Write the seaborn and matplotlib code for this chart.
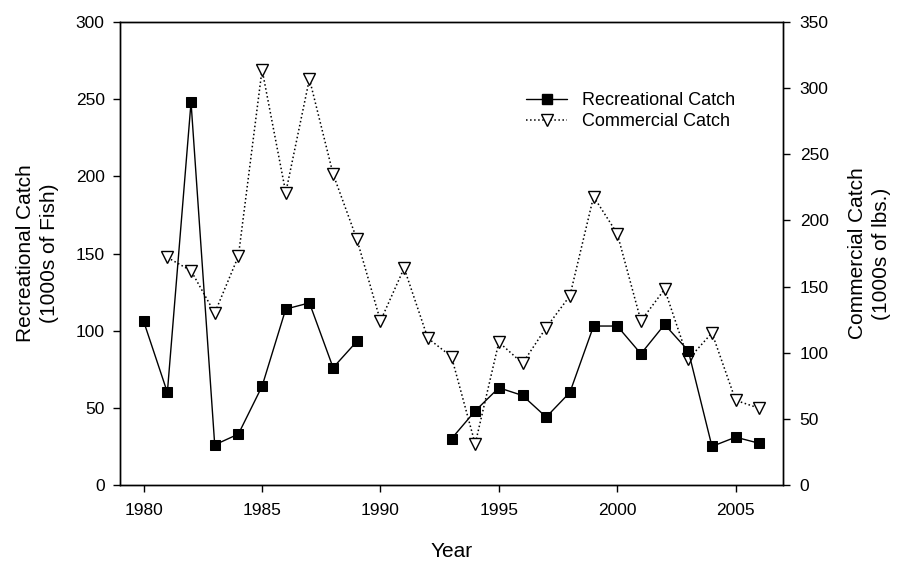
import numpy as np
import pandas as pd
import matplotlib
matplotlib.use("Agg")
import matplotlib.pyplot as plt
from matplotlib.lines import Line2D
import seaborn as sns

sns.set_style("ticks")
plt.rcParams["font.family"] = ["Liberation Sans", "DejaVu Sans"]
plt.rcParams["text.color"] = "black"
plt.rcParams["axes.labelcolor"] = "black"
plt.rcParams["xtick.color"] = "black"
plt.rcParams["ytick.color"] = "black"

# ---- data ----
rec_years = [1980, 1981, 1982, 1983, 1984, 1985, 1986, 1987, 1988, 1989,
             1993, 1994, 1995, 1996, 1997, 1998, 1999, 2000, 2001, 2002,
             2003, 2004, 2005, 2006]
rec_catch = [106, 60, 248, 26, 33, 64, 114, 118, 76, 93,
             30, 48, 63, 58, 44, 60, 103, 103, 85, 104,
             87, 25, 31, 27]
rec_segment = [0] * 10 + [1] * 14

com_years = list(range(1981, 2007))
com_catch = [172, 162, 130, 173, 314, 221, 307, 235, 186, 124,
             164, 111, 97, 31, 108, 92, 119, 143, 218, 190,
             124, 148, 95, 115, 64, 58]

left_ticks = [0, 50, 100, 150, 200, 250, 300]
right_ticks = [0, 50, 100, 150, 200, 250, 300, 350]
x_ticks = [1980, 1985, 1990, 1995, 2000, 2005]

rec_df = pd.DataFrame({"Year": rec_years, "Catch": rec_catch, "seg": rec_segment})
com_df = pd.DataFrame({"Year": com_years, "Catch": com_catch})

# ---- figure ----
fig = plt.figure(figsize=(8.98, 5.62), dpi=100)
ax = fig.add_axes([0.13363, 0.13701, 0.73831, 0.82384])
ax2 = ax.twinx()

sns.lineplot(data=com_df, x="Year", y="Catch", ax=ax2, color="black",
             linestyle=":", linewidth=1.1, marker="v", markersize=9,
             markerfacecolor="white", markeredgecolor="black",
             markeredgewidth=1.0, legend=False)

sns.lineplot(data=rec_df, x="Year", y="Catch", units="seg", estimator=None,
             ax=ax, color="black", linewidth=1.0, marker="s", markersize=7.5,
             markerfacecolor="black", markeredgecolor="black", legend=False)

ax.set_zorder(ax2.get_zorder() + 1)
ax.patch.set_visible(False)

ax.set_xlim(1979, 2007)
ax.set_ylim(0, 300)
ax2.set_ylim(0, 350)
ax.set_xticks(x_ticks)
ax.set_yticks(left_ticks)
ax2.set_yticks(right_ticks)

for a in (ax, ax2):
    for s in a.spines.values():
        s.set_visible(True)
        s.set_color("black")
        s.set_linewidth(1.0)
    a.tick_params(direction="out", length=5, width=1.0, labelsize=12.5,
                  colors="black", pad=6)
ax.tick_params(axis="x", pad=8)
ax2.tick_params(axis="y", pad=7)

ax.set_xlabel("Year", fontsize=15, labelpad=17)
ax.set_ylabel("Recreational Catch\n(1000s of Fish)", fontsize=15,
              labelpad=12, linespacing=1.35)
ax2.set_ylabel("Commercial Catch\n(1000s of lbs.)", fontsize=15,
               labelpad=14, linespacing=1.3, rotation=90)
ax2.yaxis.set_label_position("right")

handles = [
    Line2D([], [], color="black", linewidth=1.0, marker="s", markersize=7.5,
           markerfacecolor="black"),
    Line2D([], [], color="black", linewidth=1.1, linestyle=":", marker="v",
           markersize=9, markerfacecolor="white", markeredgecolor="black"),
]
ax.legend(handles, ["Recreational Catch", "Commercial Catch"],
          loc="upper left", bbox_to_anchor=(0.612, 0.848), frameon=False,
          fontsize=13, handlelength=2.3, handletextpad=0.8,
          labelspacing=0.2, borderpad=0, borderaxespad=0)

fig.savefig("out.png", dpi=100)
